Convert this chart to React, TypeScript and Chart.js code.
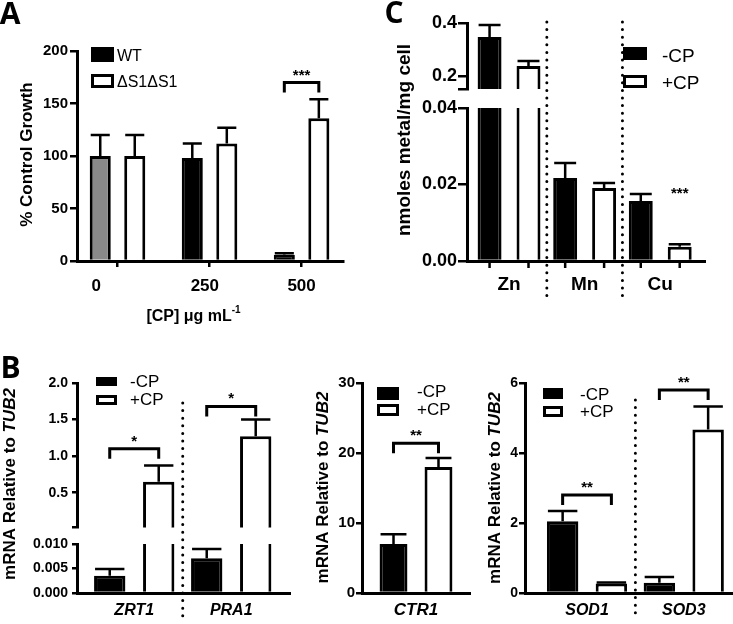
import React, { useEffect, useRef } from 'react';
import { Chart, registerables } from 'chart.js';

Chart.register(...registerables);

// ---------------- DATA ----------------
// Panel A: growth
const aDoses = ['0', '250', '500'];
const aWT = [100, 98, 6];
const aWTErr = [20, 14, 1.5];
const aMut = [100, 112, 136];
const aMutErr = [20, 15, 18];
const aYTicks = [0, 50, 100, 150, 200];
const aYLabels = ['0', '50', '100', '150', '200'];
const aSig = [{ group: 2, level: 170, label: '***' }];

// Panel C: metal content
const cMetals = ['Zn', 'Mn', 'Cu'];
const cMinusCP = [0.347, 0.0217, 0.0157];
const cMinusErr = [0.045, 0.0039, 0.0018];
const cPlusCP = [0.238, 0.0191, 0.0037];
const cPlusErr = [0.019, 0.0013, 0.0007];
const cUpperTicks = [0.151, 0.2, 0.4];
const cUpperLabels = ['', '0.2', '0.4'];
const cLowerTicks = [0, 0.02, 0.04];
const cLowerLabels = ['0.00', '0.02', '0.04'];
const cStars = [{ group: 2, series: 1, level: 0.0165, label: '***' }];

// Panel B1: ZRT1 / PRA1
const b1Genes = ['ZRT1', 'PRA1'];
const b1Minus = [0.0035, 0.0071];
const b1MinusErr = [0.0014, 0.0019];
const b1Plus = [0.65, 1.27];
const b1PlusErr = [0.22, 0.23];
const b1UpperTicks = [0.022, 0.5, 1.0, 1.5, 2.0];
const b1UpperLabels = ['', '0.5', '1.0', '1.5', '2.0'];
const b1LowerTicks = [0, 0.005, 0.01];
const b1LowerLabels = ['0.000', '0.005', '0.010'];
const b1Sig = [
  { group: 0, level: 1.1, label: '*' },
  { group: 1, level: 1.68, label: '*' },
];

// Panel B2: CTR1
const b2Genes = ['CTR1'];
const b2Minus = [7.0];
const b2MinusErr = [1.4];
const b2Plus = [18.0];
const b2PlusErr = [1.3];
const b2Ticks = [0, 10, 20, 30];
const b2Labels = ['0', '10', '20', '30'];
const b2Sig = [{ group: 0, level: 21.4, label: '**' }];

// Panel B3: SOD1 / SOD3
const b3Genes = ['SOD1', 'SOD3'];
const b3Minus = [2.05, 0.29];
const b3MinusErr = [0.29, 0.17];
const b3Plus = [0.27, 4.67];
const b3PlusErr = [0.03, 0.66];
const b3Ticks = [0, 2, 4, 6];
const b3Labels = ['0', '2', '4', '6'];
const b3Sig = [
  { group: 0, level: 2.8, label: '**' },
  { group: 1, level: 5.8, label: '**' },
];

// ---------------- STYLE ----------------
const FAM = '"Liberation Sans", Arial, Helvetica, sans-serif';
const LET = '"Open Sans", "Liberation Sans", sans-serif';
const f = (size: number, weight = 'bold', style = '') =>
  `${style} ${weight} ${size}px ${FAM}`.trim();

type Box = { x: number; y: number; w: number; h: number };
type Area = { l: number; t: number; r: number; b: number };
type Part = { t: string; font: string; dy?: number };
type TextSpec = { x: number; y: number; rot?: boolean; base?: CanvasTextBaseline; parts: Part[] };
type LegendItem = { label: string; fill: string; x: number; y: number; w: number; h: number; tx: number; ty: number; font: string };
type Series = { values: number[]; errs: number[]; fill: string | string[] };

interface PanelSpec {
  box: Box;
  area: Area;
  xMin: number;
  xMax: number;
  xLabels: string[];
  xLabelPad?: number[]; // trailing spaces per label (nudges label left)
  showX: boolean;
  xH?: number;
  xFont?: any;
  xPad?: number;
  xGroupTicks?: boolean;
  barTicks?: boolean;
  yMin: number;
  yMax: number;
  yTicks: number[];
  yLabels: string[];
  yW: number;
  yTick: number;
  yPad: number;
  yFont: any;
  series: Series[];
  catPct: number;
  barPct: number;
  brackets?: { group: number; level: number; label: string }[];
  stars?: { group: number; series: number; level: number; label: string }[];
  starFont?: string;
  legend?: LegendItem[];
  texts?: TextSpec[];
  seps?: { y0: number; y1: number };
}

const twoSeries = (m: number[], me: number[], p: number[], pe: number[], mFill: string | string[] = '#000'): Series[] => [
  { values: m, errs: me, fill: mFill },
  { values: p, errs: pe, fill: '#ffffff' },
];

const cpLegend = (bx: number, bw: number, y1: number, h1: number, y2: number, h2: number, tx: number, ty1: number, ty2: number, size: number): LegendItem[] => [
  { label: '-CP', fill: '#000', x: bx, y: y1, w: bw, h: h1, tx, ty: ty1, font: f(size, 'normal') },
  { label: '+CP', fill: '#fff', x: bx, y: y2, w: bw, h: h2, tx, ty: ty2, font: f(size, 'normal') },
];

const TITLE_B = (x: number, y: number): TextSpec => ({
  x, y, rot: true, base: 'middle',
  parts: [{ t: 'mRNA Relative to ', font: f(17) }, { t: 'TUB2', font: f(17, 'bold', 'italic') }],
});

// ---------------- PANELS ----------------
const panelA: PanelSpec = {
  box: { x: 0, y: 0, w: 360, h: 330 },
  area: { l: 77, t: 51, r: 343, b: 261 },
  xMin: -0.44, xMax: 2.45, xLabels: aDoses, xLabelPad: [9, 2, 0], showX: true, xH: 45,
  xFont: { family: FAM, size: 17, weight: 'bold' }, xPad: 9, xGroupTicks: true,
  yMin: 0, yMax: 200, yTicks: aYTicks, yLabels: aYLabels, yW: 55, yTick: 7, yPad: 2,
  yFont: { family: FAM, size: 15, weight: 'bold' },
  series: twoSeries(aWT, aWTErr, aMut, aMutErr, ['#8a8a8a', '#000000', '#000000']),
  catPct: 0.75, barPct: 0.61,
  brackets: aSig, starFont: f(15),
  legend: [
    { label: 'WT', fill: '#000', x: 91, y: 47, w: 23, h: 15, tx: 117, ty: 61, font: f(16, 'normal') },
    { label: 'ΔS1ΔS1', fill: '#fff', x: 91, y: 74, w: 23, h: 14, tx: 117, ty: 87, font: f(16, 'normal') },
  ],
  texts: [
    { x: 10, y: 24, parts: [{ t: 'A', font: `bold 30px ${LET}` }] },
    { x: 27, y: 154.5, rot: true, base: 'middle', parts: [{ t: '% Control Growth', font: f(17) }] },
    { x: 193.5, y: 321, parts: [{ t: '[CP] μg mL', font: f(16) }, { t: '-1', font: f(10), dy: -8 }] },
  ],
};

const cX = { xMin: -0.556, xMax: 2.592, xLabels: cMetals, catPct: 1.03, barPct: 0.615 };
const cSeries = twoSeries(cMinusCP, cMinusErr, cPlusCP, cPlusErr);

const panelCLower: PanelSpec = {
  box: { x: 360, y: 0, w: 373, h: 320 },
  area: { l: 467, t: 108, r: 705, b: 261 },
  ...cX, showX: true, xH: 45,
  xFont: { family: FAM, size: 19, weight: 'bold' }, xPad: 12.6, barTicks: true,
  yMin: 0, yMax: 0.04, yTicks: cLowerTicks, yLabels: cLowerLabels, yW: 55, yTick: 9, yPad: 1,
  yFont: { family: FAM, size: 18, weight: 'bold' },
  series: cSeries,
  stars: cStars, starFont: f(15),
  seps: { y0: 22, y1: 302 },
  texts: [
    { x: 405, y: 140, rot: true, base: 'middle', parts: [{ t: 'nmoles metal/mg cell', font: f(19) }] },
  ],
};

const panelCUpper: PanelSpec = {
  box: { x: 360, y: 0, w: 373, h: 105 },
  area: { l: 467, t: 23, r: 705, b: 89 },
  ...cX, showX: false,
  yMin: 0.151, yMax: 0.4, yTicks: cUpperTicks, yLabels: cUpperLabels, yW: 55, yTick: 9, yPad: 1,
  yFont: { family: FAM, size: 18, weight: 'bold' },
  series: cSeries,
  legend: cpLegend(623, 24, 47, 13, 75, 13, 662, 61.5, 89, 19),
  texts: [{ x: 394, y: 23, parts: [{ t: 'C', font: `bold 30px ${LET}` }] }],
};

const b1X = { xMin: -0.59, xMax: 1.606, xLabels: b1Genes, catPct: 1.01, barPct: 0.64 };
const b1Series = twoSeries(b1Minus, b1MinusErr, b1Plus, b1PlusErr);
const b1YFont = { family: FAM, size: 14, weight: 'bold' };

const panelB1Lower: PanelSpec = {
  box: { x: 0, y: 340, w: 300, h: 284 },
  area: { l: 77, t: 544, r: 290, b: 593 },
  ...b1X, showX: true, xH: 28,
  xFont: { family: FAM, size: 16, weight: 'bold', style: 'italic' }, xPad: 8,
  yMin: 0, yMax: 0.01, yTicks: b1LowerTicks, yLabels: b1LowerLabels, yW: 55, yTick: 5, yPad: 4, yFont: b1YFont,
  series: b1Series,
  seps: { y0: 403, y1: 620 },
  texts: [
    { x: 10.5, y: 378, parts: [{ t: 'B', font: `bold 30px ${LET}` }] },
    TITLE_B(10, 484),
  ],
};

const panelB1Upper: PanelSpec = {
  box: { x: 0, y: 340, w: 300, h: 200 },
  area: { l: 77, t: 383, r: 290, b: 528 },
  ...b1X, showX: false,
  yMin: 0.022, yMax: 2.0, yTicks: b1UpperTicks, yLabels: b1UpperLabels, yW: 55, yTick: 5, yPad: 4, yFont: b1YFont,
  series: b1Series,
  brackets: b1Sig, starFont: f(15),
  legend: cpLegend(96, 21, 377, 9, 395, 10, 130, 386.5, 405, 17),
};

const panelB2: PanelSpec = {
  box: { x: 290, y: 340, w: 190, h: 284 },
  area: { l: 362, t: 383, r: 470, b: 593 },
  xMin: -0.5, xMax: 0.5, xLabels: b2Genes, showX: true, xH: 28,
  xFont: { family: FAM, size: 17, weight: 'bold', style: 'italic' }, xPad: 6.8,
  yMin: 0, yMax: 30, yTicks: b2Ticks, yLabels: b2Labels, yW: 45, yTick: 6, yPad: 1,
  yFont: { family: FAM, size: 15, weight: 'bold' },
  series: twoSeries(b2Minus, b2MinusErr, b2Plus, b2PlusErr),
  catPct: 0.833, barPct: 0.62,
  brackets: b2Sig, starFont: f(15),
  legend: cpLegend(377, 22, 387, 13, 404, 12, 417, 397, 415, 17),
  texts: [TITLE_B(323, 487.5)],
};

const panelB3: PanelSpec = {
  box: { x: 480, y: 340, w: 253, h: 284 },
  area: { l: 525, t: 383, r: 733, b: 593 },
  xMin: -0.641, xMax: 1.509, xLabels: b3Genes, showX: true, xH: 28,
  xFont: { family: FAM, size: 16, weight: 'bold', style: 'italic' }, xPad: 7.5,
  yMin: 0, yMax: 6, yTicks: b3Ticks, yLabels: b3Labels, yW: 30, yTick: 6, yPad: 1,
  yFont: { family: FAM, size: 14, weight: 'bold' },
  series: twoSeries(b3Minus, b3MinusErr, b3Plus, b3PlusErr),
  catPct: 1.008, barPct: 0.645,
  brackets: b3Sig, starFont: f(15),
  seps: { y0: 400, y1: 620 },
  legend: cpLegend(543, 20, 388, 11, 406, 11, 580, 400, 417, 17),
  texts: [TITLE_B(495, 488)],
};

const PANELS: PanelSpec[] = [panelA, panelCLower, panelCUpper, panelB1Lower, panelB1Upper, panelB2, panelB3];

// ---------------- DRAWING ----------------
function drawText(ctx: CanvasRenderingContext2D, t: TextSpec, ox: number, oy: number) {
  ctx.save();
  ctx.translate(t.x - ox, t.y - oy);
  if (t.rot) ctx.rotate(-Math.PI / 2);
  ctx.textBaseline = t.base || 'alphabetic';
  ctx.textAlign = 'left';
  ctx.fillStyle = '#000';
  let total = 0;
  t.parts.forEach((p) => {
    ctx.font = p.font;
    total += ctx.measureText(p.t).width;
  });
  let x = -total / 2;
  t.parts.forEach((p) => {
    ctx.font = p.font;
    ctx.fillText(p.t, x, p.dy || 0);
    x += ctx.measureText(p.t).width;
  });
  ctx.restore();
}

function makePlugin(spec: PanelSpec) {
  const ox = spec.box.x;
  const oy = spec.box.y;
  return {
    id: 'panelExtras',
    afterDatasetsDraw(chart: any) {
      const ctx: CanvasRenderingContext2D = chart.ctx;
      const ys = chart.scales.y;
      ctx.save();
      ctx.strokeStyle = '#000';
      ctx.fillStyle = '#000';
      ctx.lineWidth = 2.5;
      ctx.lineCap = 'butt';
      // error bars
      spec.series.forEach((s, di) => {
        const meta = chart.getDatasetMeta(di);
        s.values.forEach((v, j) => {
          if (v == null || v > spec.yMax || v < spec.yMin) return;
          const el = meta.data[j];
          if (!el) return;
          const yTop = el.y;
          const yCap = ys.getPixelForValue(v + s.errs[j]);
          const hw = el.width / 2 - 1;
          ctx.beginPath();
          ctx.moveTo(el.x, yTop);
          ctx.lineTo(el.x, yCap);
          ctx.moveTo(el.x - hw, yCap);
          ctx.lineTo(el.x + hw, yCap);
          ctx.stroke();
        });
      });
      // brackets
      (spec.brackets || []).forEach((b) => {
        const x1 = chart.getDatasetMeta(0).data[b.group].x;
        const x2 = chart.getDatasetMeta(1).data[b.group].x;
        const y = ys.getPixelForValue(b.level);
        ctx.lineWidth = 3;
        ctx.lineJoin = 'miter';
        ctx.beginPath();
        ctx.moveTo(x1, y + 10);
        ctx.lineTo(x1, y);
        ctx.lineTo(x2, y);
        ctx.lineTo(x2, y + 10);
        ctx.stroke();
        ctx.font = spec.starFont || f(15);
        ctx.textAlign = 'center';
        ctx.textBaseline = 'alphabetic';
        ctx.fillText(b.label, (x1 + x2) / 2, y - 3);
      });
      // stars
      (spec.stars || []).forEach((s) => {
        const el = chart.getDatasetMeta(s.series).data[s.group];
        const y = ys.getPixelForValue(s.level);
        ctx.font = spec.starFont || f(15);
        ctx.textAlign = 'center';
        ctx.textBaseline = 'alphabetic';
        ctx.fillText(s.label, el.x, y);
      });
      ctx.restore();
    },
    afterDraw(chart: any) {
      const ctx: CanvasRenderingContext2D = chart.ctx;
      const xs = chart.scales.x;
      const area = chart.chartArea;
      ctx.save();
      ctx.strokeStyle = '#000';
      ctx.fillStyle = '#000';
      // tick marks under every bar
      if (spec.barTicks) {
        ctx.lineWidth = 2.5;
        spec.series.forEach((_s, di) => {
          chart.getDatasetMeta(di).data.forEach((el: any) => {
            ctx.beginPath();
            ctx.moveTo(el.x, area.bottom);
            ctx.lineTo(el.x, area.bottom + 7);
            ctx.stroke();
          });
        });
      }
      // dotted separators between groups
      if (spec.seps) {
        ctx.save();
        ctx.lineWidth = 3;
        ctx.lineCap = 'round';
        ctx.setLineDash([0, 7.6]);
        for (let g = 0; g < spec.xLabels.length - 1; g++) {
          const x = xs.getPixelForValue(g + 0.5);
          ctx.beginPath();
          ctx.moveTo(x, spec.seps.y0 - oy);
          ctx.lineTo(x, spec.seps.y1 - oy);
          ctx.stroke();
        }
        ctx.restore();
      }
      // legend
      (spec.legend || []).forEach((it) => {
        const x = it.x - ox;
        const y = it.y - oy;
        if (it.fill === '#000') {
          ctx.fillStyle = '#000';
          ctx.fillRect(x, y, it.w, it.h);
        } else {
          ctx.fillStyle = '#fff';
          ctx.fillRect(x, y, it.w, it.h);
          ctx.lineWidth = 3;
          ctx.strokeStyle = '#000';
          ctx.strokeRect(x + 1.5, y + 1.5, it.w - 3, it.h - 3);
        }
        ctx.fillStyle = '#000';
        ctx.font = it.font;
        ctx.textAlign = 'left';
        ctx.textBaseline = 'alphabetic';
        ctx.fillText(it.label, it.tx - ox, it.ty - oy);
      });
      (spec.texts || []).forEach((t) => drawText(ctx, t, ox, oy));
      ctx.restore();
    },
  };
}

function buildConfig(spec: PanelSpec): any {
  const xH = spec.showX ? spec.xH || 40 : 0;
  const padding = {
    left: Math.max(0, spec.area.l - spec.box.x - spec.yW),
    top: spec.area.t - spec.box.y,
    right: Math.max(0, spec.box.x + spec.box.w - spec.area.r),
    bottom: Math.max(0, spec.box.y + spec.box.h - spec.area.b - xH),
  };
  return {
    type: 'bar',
    data: {
      datasets: spec.series.map((s) => ({
        data: s.values.map((v, i) => ({ x: i, y: v })),
        backgroundColor: s.fill,
        borderColor: '#000',
        borderWidth: 3,
        borderSkipped: 'start',
        inflateAmount: 0,
        categoryPercentage: spec.catPct,
        barPercentage: spec.barPct,
        clip: 0,
      })),
    },
    options: {
      responsive: false,
      animation: false,
      devicePixelRatio: 1,
      events: [],
      layout: { padding },
      plugins: { legend: { display: false }, tooltip: { enabled: false } },
      scales: {
        x: {
          type: 'linear',
          min: spec.xMin,
          max: spec.xMax,
          bounds: 'data',
          offset: false,
          display: spec.showX,
          afterBuildTicks: (s: any) => {
            s.ticks = spec.xLabels.map((_l, i) => ({ value: i }));
          },
          afterFit: (s: any) => {
            s.height = xH;
          },
          ticks: {
            callback: (_v: any, i: number) =>
              (spec.xLabels[i] ?? '') + '\u0020'.repeat(spec.xLabelPad ? spec.xLabelPad[i] || 0 : 0),
            autoSkip: false,
            maxRotation: 0,
            minRotation: 0,
            font: spec.xFont,
            padding: spec.xPad ?? 4,
            color: '#000',
          },
          grid: spec.xGroupTicks
            ? { display: true, offset: false, drawOnChartArea: false, drawTicks: true, tickLength: 6, lineWidth: 2.5, color: '#000' }
            : { display: false, drawTicks: false, tickLength: 0 },
          border: { display: true, color: '#000', width: 3 },
        },
        y: {
          type: 'linear',
          min: spec.yMin,
          max: spec.yMax,
          bounds: 'data',
          afterBuildTicks: (s: any) => {
            s.ticks = spec.yTicks.map((v) => ({ value: v }));
          },
          afterFit: (s: any) => {
            s.width = spec.yW;
          },
          ticks: {
            callback: (_v: any, i: number) => spec.yLabels[i] ?? '',
            autoSkip: false,
            font: spec.yFont,
            padding: spec.yPad,
            color: '#000',
          },
          grid: { display: true, drawOnChartArea: false, drawTicks: true, tickLength: spec.yTick, lineWidth: 2.5, color: '#000' },
          border: { display: true, color: '#000', width: 3 },
        },
      },
    },
    plugins: [makePlugin(spec)],
  };
}

function Panel({ spec }: { spec: PanelSpec }) {
  const ref = useRef<HTMLCanvasElement>(null);
  useEffect(() => {
    if (!ref.current) return;
    const chart = new Chart(ref.current, buildConfig(spec));
    return () => chart.destroy();
  }, [spec]);
  return (
    <canvas
      ref={ref}
      width={spec.box.w}
      height={spec.box.h}
      style={{ position: 'absolute', left: spec.box.x, top: spec.box.y, width: spec.box.w, height: spec.box.h }}
    />
  );
}

export default function App() {
  return (
    <div
      style={{
        position: 'absolute',
        left: 0,
        top: 0,
        width: 733,
        height: 624,
        overflow: 'hidden',
        background: '#ffffff',
      }}
    >
      {PANELS.map((p, i) => (
        <Panel key={i} spec={p} />
      ))}
    </div>
  );
}
